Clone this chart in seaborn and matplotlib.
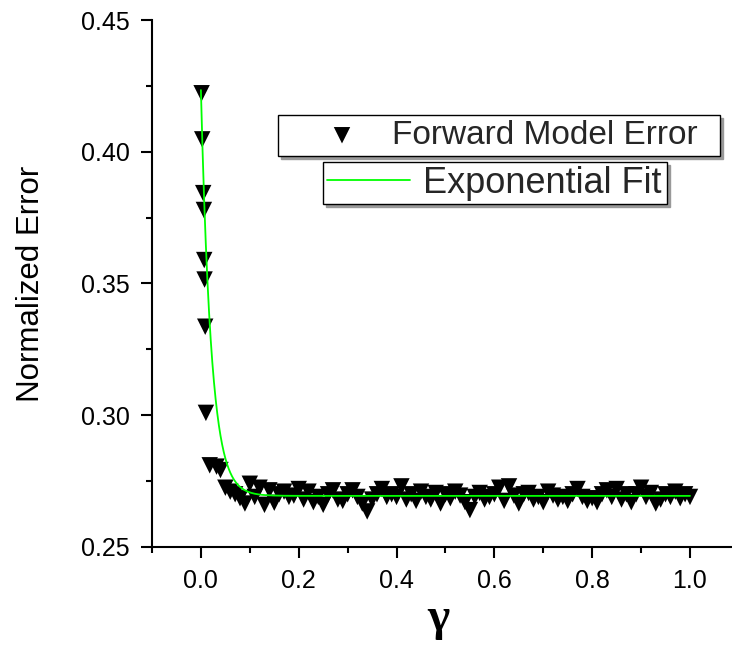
import numpy as np
import pandas as pd
import matplotlib
matplotlib.use("Agg")
import matplotlib.pyplot as plt
from matplotlib.ticker import MultipleLocator
import seaborn as sns

# ---------------- data ----------------
gamma_early = [0.0014, 0.0027, 0.0047, 0.0061, 0.0068, 0.0075, 0.0088, 0.0102,
               0.018, 0.032, 0.040]
error_early = [0.4222, 0.4047, 0.3843, 0.3779, 0.3589, 0.3515, 0.3336, 0.3009,
               0.2810, 0.2805, 0.2792]

gamma_main = [0.05, 0.06, 0.07, 0.08, 0.09, 0.10, 0.11, 0.12, 0.13, 0.14,
              0.15, 0.16, 0.17, 0.18, 0.19, 0.20, 0.21, 0.22, 0.23, 0.24,
              0.25, 0.26, 0.27, 0.28, 0.29, 0.30, 0.31, 0.32, 0.33, 0.34,
              0.35, 0.36, 0.37, 0.38, 0.39, 0.40, 0.41, 0.42, 0.43, 0.44,
              0.45, 0.46, 0.47, 0.48, 0.49, 0.50, 0.51, 0.52, 0.53, 0.54,
              0.55, 0.56, 0.57, 0.58, 0.59, 0.60, 0.61, 0.62, 0.63, 0.64,
              0.65, 0.66, 0.67, 0.68, 0.69, 0.70, 0.71, 0.72, 0.73, 0.74,
              0.75, 0.76, 0.77, 0.78, 0.79, 0.80, 0.81, 0.82, 0.83, 0.84,
              0.85, 0.86, 0.87, 0.88, 0.89, 0.90, 0.91, 0.92, 0.93, 0.94,
              0.95, 0.96, 0.97, 0.98, 0.99, 1.00]
error_main = [0.2725, 0.2710, 0.2700, 0.2685, 0.2665, 0.2740, 0.2690, 0.2725, 0.2660, 0.2715,
              0.2668, 0.2700, 0.2710, 0.2690, 0.2695, 0.2720, 0.2680, 0.2710, 0.2670, 0.2690,
              0.2660, 0.2700, 0.2715, 0.2680, 0.2675, 0.2700, 0.2715, 0.2690, 0.2665, 0.2635,
              0.2680, 0.2700, 0.2720, 0.2690, 0.2700, 0.2690, 0.2730, 0.2680, 0.2700, 0.2675,
              0.2710, 0.2690, 0.2680, 0.2705, 0.2665, 0.2700, 0.2685, 0.2710, 0.2695, 0.2670,
              0.2640, 0.2690, 0.2705, 0.2680, 0.2690, 0.2700, 0.2725, 0.2675, 0.2730, 0.2695,
              0.2665, 0.2700, 0.2705, 0.2680, 0.2690, 0.2670, 0.2710, 0.2695, 0.2680, 0.2690,
              0.2675, 0.2700, 0.2720, 0.2690, 0.2675, 0.2685, 0.2670, 0.2700, 0.2715, 0.2690,
              0.2720, 0.2680, 0.2700, 0.2670, 0.2700, 0.2725, 0.2690, 0.2705, 0.2665, 0.2680,
              0.2700, 0.2690, 0.2710, 0.2685, 0.2700, 0.2690]

# exponential fit parameters  y = y0 + A * exp(-x / t)
fit_y0 = 0.2694
fit_A = 0.154
fit_t = 0.021
fit_range = (0.0, 1.0)

series_labels = ["Forward Model Error", "Exponential Fit"]
x_label = "\u03b3"
y_label = "Normalized Error"

# ---------------- figure ----------------
sns.set_style("ticks")
plt.rcParams["font.family"] = ["Liberation Sans", "DejaVu Sans"]

W, H = 732, 652
fig = plt.figure(figsize=(W / 100, H / 100), dpi=100)
ax_l, ax_r, ax_t, ax_b = 152, 732, 20, 547
ax = fig.add_axes([ax_l / W, 1 - ax_b / H, (ax_r - ax_l) / W, (ax_b - ax_t) / H])

pts = pd.DataFrame({"gamma": gamma_early + gamma_main,
                    "error": error_early + error_main})
fx = np.linspace(fit_range[0], fit_range[1], 600)
fit = pd.DataFrame({"gamma": fx, "error": fit_y0 + fit_A * np.exp(-fx / fit_t)})

sns.scatterplot(data=pts, x="gamma", y="error", marker="v", s=140, color="black",
                edgecolor="none", linewidth=0, ax=ax, label=series_labels[0], zorder=2)
sns.lineplot(data=fit, x="gamma", y="error", color="#00ff00", linewidth=1.3,
             ax=ax, label=series_labels[1], zorder=3)

x_px0 = 201.0
x_unit = 489.0
ax.set_xlim(-0.1, (ax_r - x_px0) / x_unit)
ax.set_ylim(0.25, 0.45)
ax.xaxis.set_major_locator(MultipleLocator(0.2))
ax.xaxis.set_minor_locator(MultipleLocator(0.1))
ax.yaxis.set_major_locator(MultipleLocator(0.05))
ax.yaxis.set_minor_locator(MultipleLocator(0.025))
ax.xaxis.set_major_formatter(matplotlib.ticker.FormatStrFormatter("%.1f"))
ax.yaxis.set_major_formatter(matplotlib.ticker.FormatStrFormatter("%.2f"))

for s in ["top", "right"]:
    ax.spines[s].set_visible(False)
for s in ["left", "bottom"]:
    ax.spines[s].set_linewidth(1.5)
    ax.spines[s].set_color("black")
ax.tick_params(which="major", direction="out", length=8, width=1.5, labelsize=18,
               pad=8, colors="black")
ax.tick_params(which="minor", direction="out", length=4.3, width=1.5, colors="black")

ax.set_ylabel(y_label, fontsize=22.5, color="black")
ax.set_xlabel(x_label, fontsize=34, family=["Liberation Serif", "DejaVu Serif"],
              fontweight="bold", color="black")
axw = ax_r - ax_l
axh = ax_b - ax_t
ax.yaxis.set_label_coords((46 - ax_l) / axw, 0.5)
ax.xaxis.set_label_coords((438 - ax_l) / axw, -(598 - ax_b) / axh)

# ---------------- legends (two stacked boxes) ----------------
handles, labels = ax.get_legend_handles_labels()
h_sc = handles[labels.index(series_labels[0])]
h_ln = handles[labels.index(series_labels[1])]

common = dict(loc="upper left", bbox_transform=fig.transFigure, mode="expand",
              borderaxespad=0, frameon=True, fancybox=False, framealpha=1,
              edgecolor="black", shadow={"color": "0.6", "alpha": 1})

b1 = (278, 115, 720, 162)
leg1 = ax.legend([h_sc], [series_labels[0]],
                 bbox_to_anchor=(b1[0] / W, 1 - b1[3] / H, (b1[2] - b1[0]) / W, (b1[3] - b1[1]) / H),
                 fontsize=24, borderpad=0.15, handlelength=3.54, handletextpad=-0.27,
                 scatterpoints=1, **common)
leg1.get_frame().set_linewidth(1.0)
ax.add_artist(leg1)

b2 = (323, 162, 667, 211)
leg2 = ax.legend([h_ln], [series_labels[1]],
                 bbox_to_anchor=(b2[0] / W, 1 - b2[3] / H, (b2[2] - b2[0]) / W, (b2[3] - b2[1]) / H),
                 fontsize=26, borderpad=0.1, handlelength=2.3, handletextpad=0.36,
                 **common)
leg2.get_frame().set_linewidth(1.0)

fig.savefig("out.png", dpi=100, facecolor="white")
